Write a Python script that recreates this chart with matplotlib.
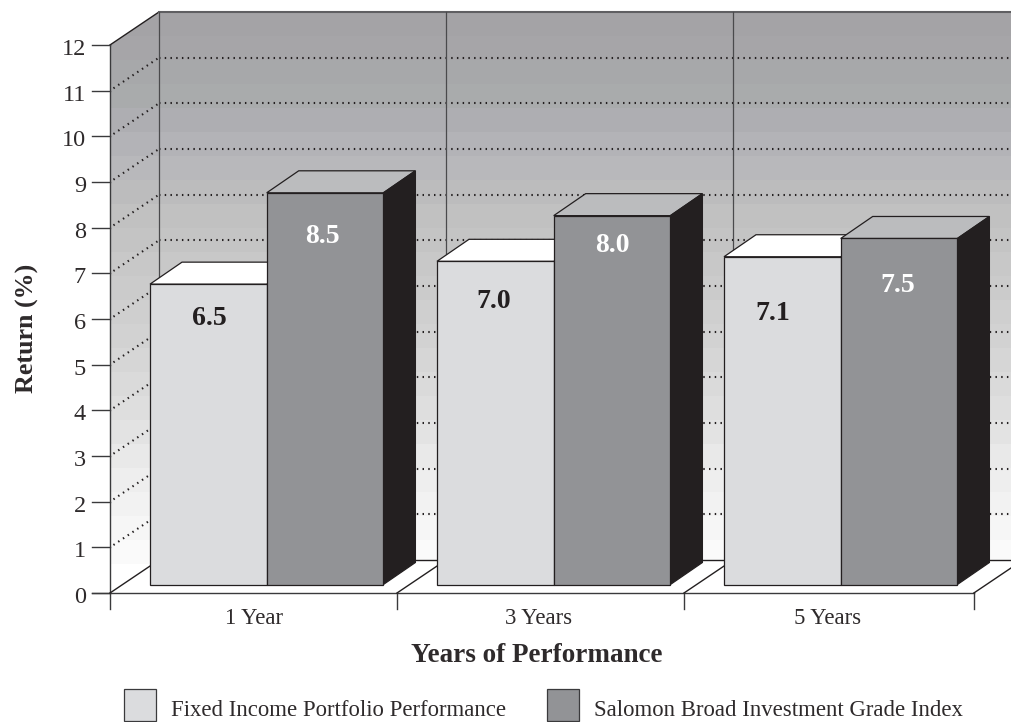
import numpy as np
import matplotlib
matplotlib.use('Agg')
import matplotlib.pyplot as plt
from matplotlib.colors import to_rgb
from matplotlib.patches import Polygon, Rectangle

# 数据
categories = ['1 Year', '3 Years', '5 Years']
series_names = ['Fixed Income Portfolio Performance', 'Salomon Broad Investment Grade Index']
portfolio = [6.5, 7.0, 7.1]
index_fund = [8.5, 8.0, 7.5]
y_ticks = list(range(13))

# 墙面的色带（由上到下）
wall_bands = ['#a4a3a6', '#a6a5a8', '#a7a8aa', '#a9abac', '#aeaeb2', '#b3b3b7', '#b8b8bb', '#bcbcbd',
              '#c1c1c1', '#c4c4c4', '#c8c8c8', '#cbcbcb', '#cfcfcf', '#d2d2d2', '#d6d6d6', '#dadada',
              '#dedede', '#e3e3e3', '#e9e9e9', '#eeeeee', '#f2f2f2', '#f6f6f6', '#fafafa', '#ffffff']

# 图幅与比例
W, H = 1012, 722
x_unit = 287.0   # 每个类别的像素宽度
y_unit = 45.67   # 每 1% 的像素高度
x0_px, y0_px = 110, 593

# 斜投影的偏移量
wall_dx, wall_dy = 49 / x_unit, 33 / y_unit
bar_dx, bar_dy = 32 / x_unit, 22 / y_unit
bar_base = 8.5 / y_unit
bar_lift = 3.5 / y_unit
bar_left = 40 / x_unit
bar_w = 116.7 / x_unit

ink = '#231f20'
text_color = '#2e2a2b'
plt.rcParams['font.family'] = ['Liberation Serif', 'DejaVu Serif']

fig = plt.figure(figsize=(W / 100, H / 100), dpi=100)
ax = fig.add_axes([0, 0, 1, 1])
ax.axis('off')

x_min, x_max = -x0_px / x_unit, (W - x0_px) / x_unit
y_min, y_max = -(H - y0_px) / y_unit, y0_px / y_unit


# 像素坐标转数据坐标，用于放置文字
def px_x(p):
    return p / x_unit + x_min


def px_y(p):
    return y_max - p / y_unit


# 侧墙和后墙的渐变背景
wall = Polygon([(0, 0), (0, 12), (wall_dx, 12 + wall_dy), (x_max, 12 + wall_dy),
                (x_max, wall_dy), (wall_dx, wall_dy)], closed=True, fc='none', ec='none')
ax.add_patch(wall)
band_rgb = np.array([to_rgb(c) for c in wall_bands]).reshape(-1, 1, 3)
band_top = 12 + wall_dy
band_bottom = band_top - len(wall_bands) * 24 / y_unit
im = ax.imshow(band_rgb, aspect='auto', interpolation='nearest',
               extent=(0, x_max, band_bottom, band_top), zorder=1)
im.set_clip_path(wall)

ax.set_xlim(x_min, x_max)
ax.set_ylim(y_min, y_max)

# 点状网格
dots = (0, (0.7, 2.05))
for v in y_ticks[1:-1]:
    ax.plot([0.012, wall_dx], [v + 0.012 / wall_dx * wall_dy, v + wall_dy], color=ink, lw=1.5,
            ls=dots, zorder=2)
    ax.plot([wall_dx, x_max], [v + wall_dy, v + wall_dy], color=ink, lw=1.5, ls=dots, zorder=2)

# 框架线
ax.plot([0, 0], [0, 12], color='#3a3a3c', lw=1.0, zorder=3)
ax.plot([0, wall_dx], [12, 12 + wall_dy], color=ink, lw=1.0, zorder=3)
ax.plot([wall_dx, x_max], [12 + wall_dy, 12 + wall_dy], color='#5f5f62', lw=1.5, zorder=3)
ax.plot([wall_dx, x_max], [wall_dy, wall_dy], color=ink, lw=1.0, zorder=3)
for i in range(3):
    ax.plot([i + wall_dx, i + wall_dx], [wall_dy, 12 + wall_dy], color='#4a4a4c', lw=0.9, zorder=3)

# 坐标轴和刻度
ax.plot([-18 / x_unit, 3.01], [0, 0], color='#3a3a3c', lw=1.0, zorder=3)
for v in y_ticks:
    ax.plot([-18 / x_unit, 0], [v, v], color='#3a3a3c', lw=1.0, zorder=3)
    ax.text(-24 / x_unit, v - 4.5 / y_unit, str(v), ha='right', va='center', fontsize=17.5,
            color=text_color, zorder=6)
for i in range(4):
    xt = i + (0.01 if i == 3 else 0)
    ax.plot([xt, xt], [0, -16 / y_unit], color='#3a3a3c', lw=1.0, zorder=3)
    ax.plot([xt, xt + wall_dx], [0, wall_dy], color=ink, lw=1.0, zorder=3)


# 画一个带顶面和侧面的立方柱
def draw_bar(x, value, front, top, side=None, z=4):
    y_top = value + bar_base + bar_lift
    top_face = [(x, y_top), (x + bar_w, y_top), (x + bar_w + bar_dx, y_top + bar_dy), (x + bar_dx, y_top + bar_dy)]
    ax.add_patch(Polygon(top_face, closed=True, fc=top, ec=ink, lw=0.9, zorder=z))
    if side is not None:
        side_face = [(x + bar_w, bar_base), (x + bar_w, y_top), (x + bar_w + bar_dx, y_top + bar_dy),
                     (x + bar_w + bar_dx, bar_base + bar_dy)]
        ax.add_patch(Polygon(side_face, closed=True, fc=side, ec=ink, lw=0.9, zorder=z))
    ax.add_patch(Rectangle((x, bar_base), bar_w, y_top - bar_base, fc=front, ec=ink, lw=0.9, zorder=z + 0.1))


# 数值标签相对柱顶的偏移（像素）
label_shift_left = [(1, -34), (-2, -40), (-10, -57)]
label_shift_right = [(-3, -44), (0, -30), (-1, -47)]
category_x = [254, 539, 827.5]

for i in range(3):
    xl = i + bar_left
    xr = xl + bar_w
    draw_bar(xl, portfolio[i], '#dbdcde', 'white', z=4)
    draw_bar(xr, index_fund[i], '#929396', '#bbbcbe', side=ink, z=4.5)

    dx, dy = label_shift_left[i]
    ax.text(xl + bar_w / 2 + dx / x_unit, portfolio[i] + bar_base + bar_lift + dy / y_unit, f'{portfolio[i]:.1f}',
            ha='center', va='center', fontsize=20, fontweight='bold', color=ink, zorder=6)
    dx, dy = label_shift_right[i]
    ax.text(xr + bar_w / 2 + dx / x_unit, index_fund[i] + bar_base + bar_lift + dy / y_unit, f'{index_fund[i]:.1f}',
            ha='center', va='center', fontsize=20, fontweight='bold', color='white', zorder=6)

    ax.text(px_x(category_x[i]), px_y(619), categories[i], ha='center', va='center',
            fontsize=16.4, color=text_color, zorder=6)

# 轴标题
ax.text(px_x(27), px_y(328), 'Return (%)', rotation=90, ha='center', va='center',
        fontsize=18.7, fontweight='bold', color=text_color)
ax.text(px_x(536.5), px_y(655), 'Years of Performance', ha='center', va='center',
        fontsize=19.5, fontweight='bold', color=text_color)

# 图例
swatch_x = [124, 547]
text_x = [171, 594]
swatch_colors = ['#dbdcde', '#929396']
for sx, tx, name, c in zip(swatch_x, text_x, series_names, swatch_colors):
    ax.add_patch(Rectangle((px_x(sx), y_min + 1 / y_unit), 32 / x_unit, 32 / y_unit, fc=c, ec='#3a3a3c', lw=0.9, zorder=4))
    ax.text(px_x(tx), px_y(710), name, ha='left', va='center', fontsize=16.4, color=text_color)

fig.savefig('out.png', dpi=100)
